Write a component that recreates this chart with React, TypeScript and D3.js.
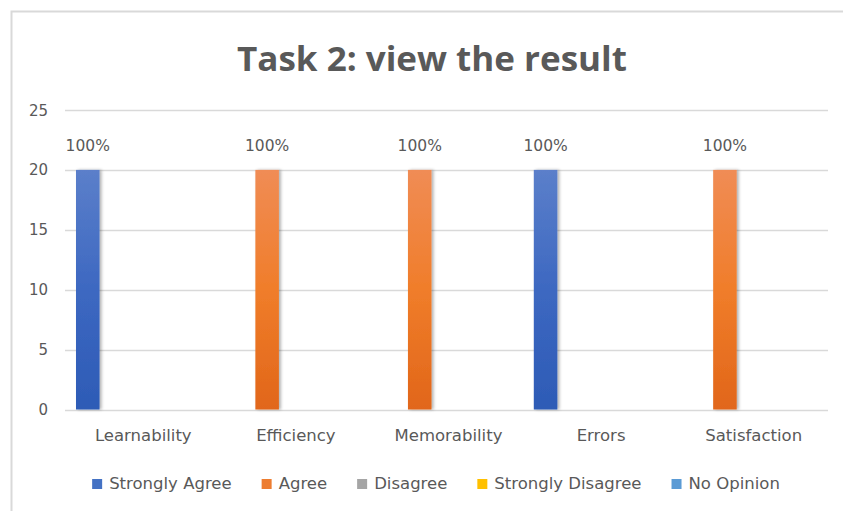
import React, { useEffect, useRef } from 'react';
import * as d3 from 'd3';

const categories = ['Learnability', 'Efficiency', 'Memorability', 'Errors', 'Satisfaction'];
const seriesNames = ['Strongly Agree', 'Agree', 'Disagree', 'Strongly Disagree', 'No Opinion'];
const stronglyAgree = [20, 0, 0, 20, 0];
const agree = [0, 20, 20, 0, 20];
const disagree = [0, 0, 0, 0, 0];
const stronglyDisagree = [0, 0, 0, 0, 0];
const noOpinion = [0, 0, 0, 0, 0];
const pctLabels = ['100%', '100%', '100%', '100%', '100%'];
const yTicks = [0, 5, 10, 15, 20, 25];
const titleText = 'Task 2: view the result';

const seriesValues = [stronglyAgree, agree, disagree, stronglyDisagree, noOpinion];
const seriesColors = ['#4472C4', '#ED7D31', '#A5A5A5', '#FFC000', '#5B9BD5'];
const gradStops: [string, string, string][] = [
  ['#5B7FCA', '#3D68C1', '#2D5BB6'],
  ['#F08C55', '#F07D2A', '#E1661A'],
  ['#B5B5B5', '#A5A5A5', '#959595'],
  ['#FFCB33', '#FFC000', '#F0B000'],
  ['#6FA8DB', '#5B9BD5', '#4A8BC8'],
];

const W = 843;
const H = 511;
const FONT = "'DejaVu Sans', sans-serif";
const TFONT = "'Open Sans', 'Noto Sans', sans-serif";
const TXT = '#595959';

export default function App() {
  const ref = useRef<SVGSVGElement>(null);

  useEffect(() => {
    const svg = d3.select(ref.current);
    svg.selectAll('*').remove();

    const defs = svg.append('defs');
    gradStops.forEach((s, i) => {
      const g = defs.append('linearGradient').attr('id', `grad${i}`).attr('x1', 0).attr('y1', 0).attr('x2', 0).attr('y2', 1);
      g.append('stop').attr('offset', '0%').attr('stop-color', s[0]);
      g.append('stop').attr('offset', '50%').attr('stop-color', s[1]);
      g.append('stop').attr('offset', '100%').attr('stop-color', s[2]);
    });
    const f = defs.append('filter').attr('id', 'shadow').attr('x', '-50%').attr('y', '-10%').attr('width', '200%').attr('height', '120%');
    f.append('feDropShadow').attr('dx', 2).attr('dy', 0).attr('stdDeviation', 1.5).attr('flood-color', '#000').attr('flood-opacity', 0.3);

    svg.append('rect').attr('width', W).attr('height', H).attr('fill', '#fff');
    // chart border
    svg.append('rect').attr('x', 11.5).attr('y', 11.5).attr('width', W + 10).attr('height', H + 10)
      .attr('fill', '#fff').attr('stroke', '#d9d9d9').attr('stroke-width', 2);

    // title
    svg.append('text').attr('x', 432).attr('y', 71).attr('text-anchor', 'middle')
      .attr('font-family', TFONT).attr('font-weight', 700).attr('font-size', 34)
      .attr('fill', TXT).attr('textLength', 390).attr('lengthAdjust', 'spacingAndGlyphs').text(titleText);

    const x0 = d3.scaleBand<string>().domain(categories).range([65, 828]).paddingInner(0).paddingOuter(0);
    const x1 = d3.scaleBand<string>().domain(seriesNames).range([11, x0.bandwidth() - 11]).paddingInner(0.12).paddingOuter(0);
    const y = d3.scaleLinear().domain([0, 25]).range([409.5, 110]);

    // gridlines
    svg.append('g').selectAll('line').data(yTicks).join('line')
      .attr('x1', 65).attr('x2', 828)
      .attr('y1', (d) => Math.round(y(d)) + 0.5).attr('y2', (d) => Math.round(y(d)) + 0.5)
      .attr('stroke', '#d9d9d9').attr('stroke-width', 1.3);

    // y labels
    svg.append('g').selectAll('text').data(yTicks).join('text')
      .attr('x', 48).attr('y', (d) => y(d) + 5.5).attr('text-anchor', 'end')
      .attr('font-family', FONT).attr('font-size', 15).attr('fill', TXT).text((d) => d);

    // bars
    const bars = svg.append('g');
    seriesNames.forEach((s, si) => {
      const vals = seriesValues[si];
      bars.append('g').selectAll('rect').data(categories).join('rect')
        .attr('x', (c) => (x0(c) as number) + (x1(s) as number))
        .attr('width', x1.bandwidth())
        .attr('y', (c, i) => y(vals[i]))
        .attr('height', (c, i) => Math.max(0, y(0) - y(vals[i])))
        .attr('fill', `url(#grad${si})`)
        .attr('filter', 'url(#shadow)');
      // data labels
      bars.append('g').selectAll('text').data(categories.filter((c, i) => vals[i] > 0)).join('text')
        .attr('x', (c) => (x0(c) as number) + (x1(s) as number) + x1.bandwidth() / 2)
        .attr('y', (c) => y(vals[categories.indexOf(c)]) - 19)
        .attr('text-anchor', 'middle').attr('font-family', FONT).attr('font-size', 15.5).attr('fill', TXT)
        .text((c) => pctLabels[categories.indexOf(c)]);
    });

    // x labels
    svg.append('g').selectAll('text').data(categories).join('text')
      .attr('x', (c) => (x0(c) as number) + x0.bandwidth() / 2 + 2).attr('y', 441)
      .attr('text-anchor', 'middle').attr('font-family', FONT).attr('font-size', 16.5).attr('fill', TXT).text((c) => c);

    // legend
    const lg = svg.append('g');
    const items = seriesNames.map((s, i) => {
      const g = lg.append('g');
      g.append('rect').attr('x', 0).attr('y', -10).attr('width', 10).attr('height', 10).attr('fill', seriesColors[i]);
      const t = g.append('text').attr('x', 17).attr('y', 0).attr('font-family', FONT).attr('font-size', 16.5).attr('fill', TXT).text(s);
      const w = 17 + (t.node() as SVGTextElement).getComputedTextLength();
      return { g, w };
    });
    const gap = 30;
    const total = d3.sum(items, (d) => d.w) + gap * (items.length - 1);
    let cx = 436 - total / 2;
    items.forEach((it) => {
      it.g.attr('transform', `translate(${cx},489)`);
      cx += it.w + gap;
    });
  }, []);

  return <svg ref={ref} width={W} height={H} style={{ position: 'absolute', left: 0, top: 0 }} />;
}
